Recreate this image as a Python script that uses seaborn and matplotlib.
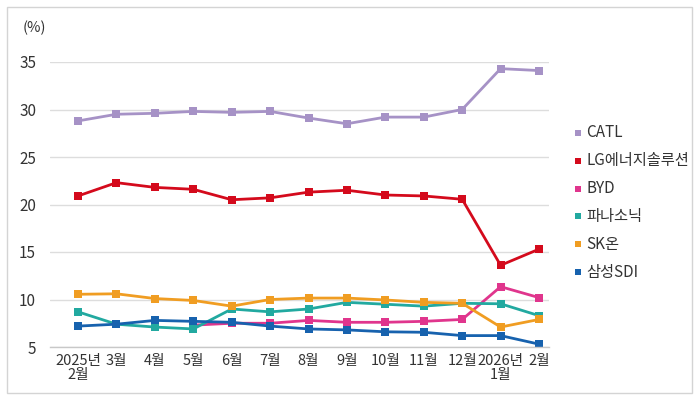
import numpy as np
import pandas as pd
import matplotlib
matplotlib.use("Agg")
import matplotlib.pyplot as plt
from matplotlib.lines import Line2D
from matplotlib.patches import Rectangle
import seaborn as sns

months = ["2025년\n2월", "3월", "4월", "5월", "6월", "7월", "8월", "9월",
          "10월", "11월", "12월", "2026년\n1월", "2월"]
catl = [28.8, 29.5, 29.6, 29.8, 29.7, 29.8, 29.1, 28.5, 29.2, 29.2, 30.0, 34.3, 34.1]
lg = [20.9, 22.3, 21.8, 21.6, 20.5, 20.7, 21.3, 21.5, 21.0, 20.9, 20.55, 13.6, 15.3]
byd = [np.nan, np.nan, np.nan, 7.3, 7.5, 7.5, 7.8, 7.6, 7.6, 7.7, 7.9, 11.35, 10.2]
panasonic = [8.7, 7.4, 7.1, 6.9, 9.0, 8.7, 9.0, 9.7, 9.5, 9.3, 9.6, 9.55, 8.3]
skon = [10.55, 10.6, 10.1, 9.9, 9.3, 10.0, 10.15, 10.15, 9.95, 9.7, 9.6, 7.1, 7.9]
samsung = [7.2, 7.4, 7.8, 7.7, 7.6, 7.2, 6.9, 6.8, 6.6, 6.55, 6.2, 6.2, 5.3]

series_names = ["CATL", "LG에너지솔루션", "BYD", "파나소닉", "SK온", "삼성SDI"]
series_vals = [catl, lg, byd, panasonic, skon, samsung]
colors = ["#a692c6", "#d40a1c", "#e0358d", "#22a9a0", "#f09d22", "#1762ae"]

rows = []
for name, vals in zip(series_names, series_vals):
    for i, v in enumerate(vals):
        rows.append({"x": i, "value": v, "company": name})
df = pd.DataFrame(rows)

sns.set_theme(style="white")
plt.rcParams["font.family"] = ["Noto Sans CJK KR", "DejaVu Sans"]
plt.rcParams["font.weight"] = "light"

fig = plt.figure(figsize=(7.0, 3.99), dpi=100)
ax = fig.add_axes([50 / 700, 1 - 347 / 399, (549 - 50) / 700, (347 - 62) / 399])

sns.lineplot(data=df, x="x", y="value", hue="company", hue_order=series_names,
             palette=colors, marker="s", markersize=6, markeredgewidth=0,
             linewidth=2.0, dashes=False, legend=False, ax=ax, clip_on=False)

ax.set_xlim(-0.73, 12.26)
ax.set_ylim(5, 35)
ax.set_yticks([5, 10, 15, 20, 25, 30, 35])
ax.set_xticks(range(len(months)))
ax.set_xticklabels(months, fontsize=10.5, color="#333333", linespacing=1.0,
                   fontweight="light")
for lbl in ax.get_yticklabels():
    lbl.set_fontweight("light")
ax.tick_params(axis="y", labelsize=11, labelcolor="#333333", length=0, pad=10)
ax.tick_params(axis="x", direction="in", length=4, width=0.8, color="#bbbbbb", pad=5)
ax.set_xlabel("")
ax.set_ylabel("")
ax.grid(axis="y", color="#dddddd", linewidth=1)
ax.grid(axis="x", visible=False)
for s in ["top", "right", "left"]:
    ax.spines[s].set_visible(False)
ax.spines["bottom"].set_color("#c8c8c8")
ax.spines["bottom"].set_linewidth(1)
ax.set_axisbelow(True)

fig.text(23 / 700, 1 - 28 / 399, "(%)", fontsize=10.5, color="#333333",
         va="center", ha="left", fontweight="light")

leg_y = [133, 161, 189, 216, 244, 272]
for name, c, yy in zip(series_names, colors, leg_y):
    fig.add_artist(Line2D([578 / 700], [1 - yy / 399], marker="s", markersize=5,
                          color=c, markeredgewidth=0, linestyle="none",
                          transform=fig.transFigure))
    fig.text(586 / 700, 1 - yy / 399, name, fontsize=11, color="#333333",
             va="center", ha="left", fontweight="light")

fig.add_artist(Rectangle((7 / 700, 1 - 393 / 399), (692 - 7) / 700, (393 - 7) / 399,
                         transform=fig.transFigure, fill=False,
                         edgecolor="#d4d4d4", linewidth=1))

fig.savefig("out.png", dpi=100)
